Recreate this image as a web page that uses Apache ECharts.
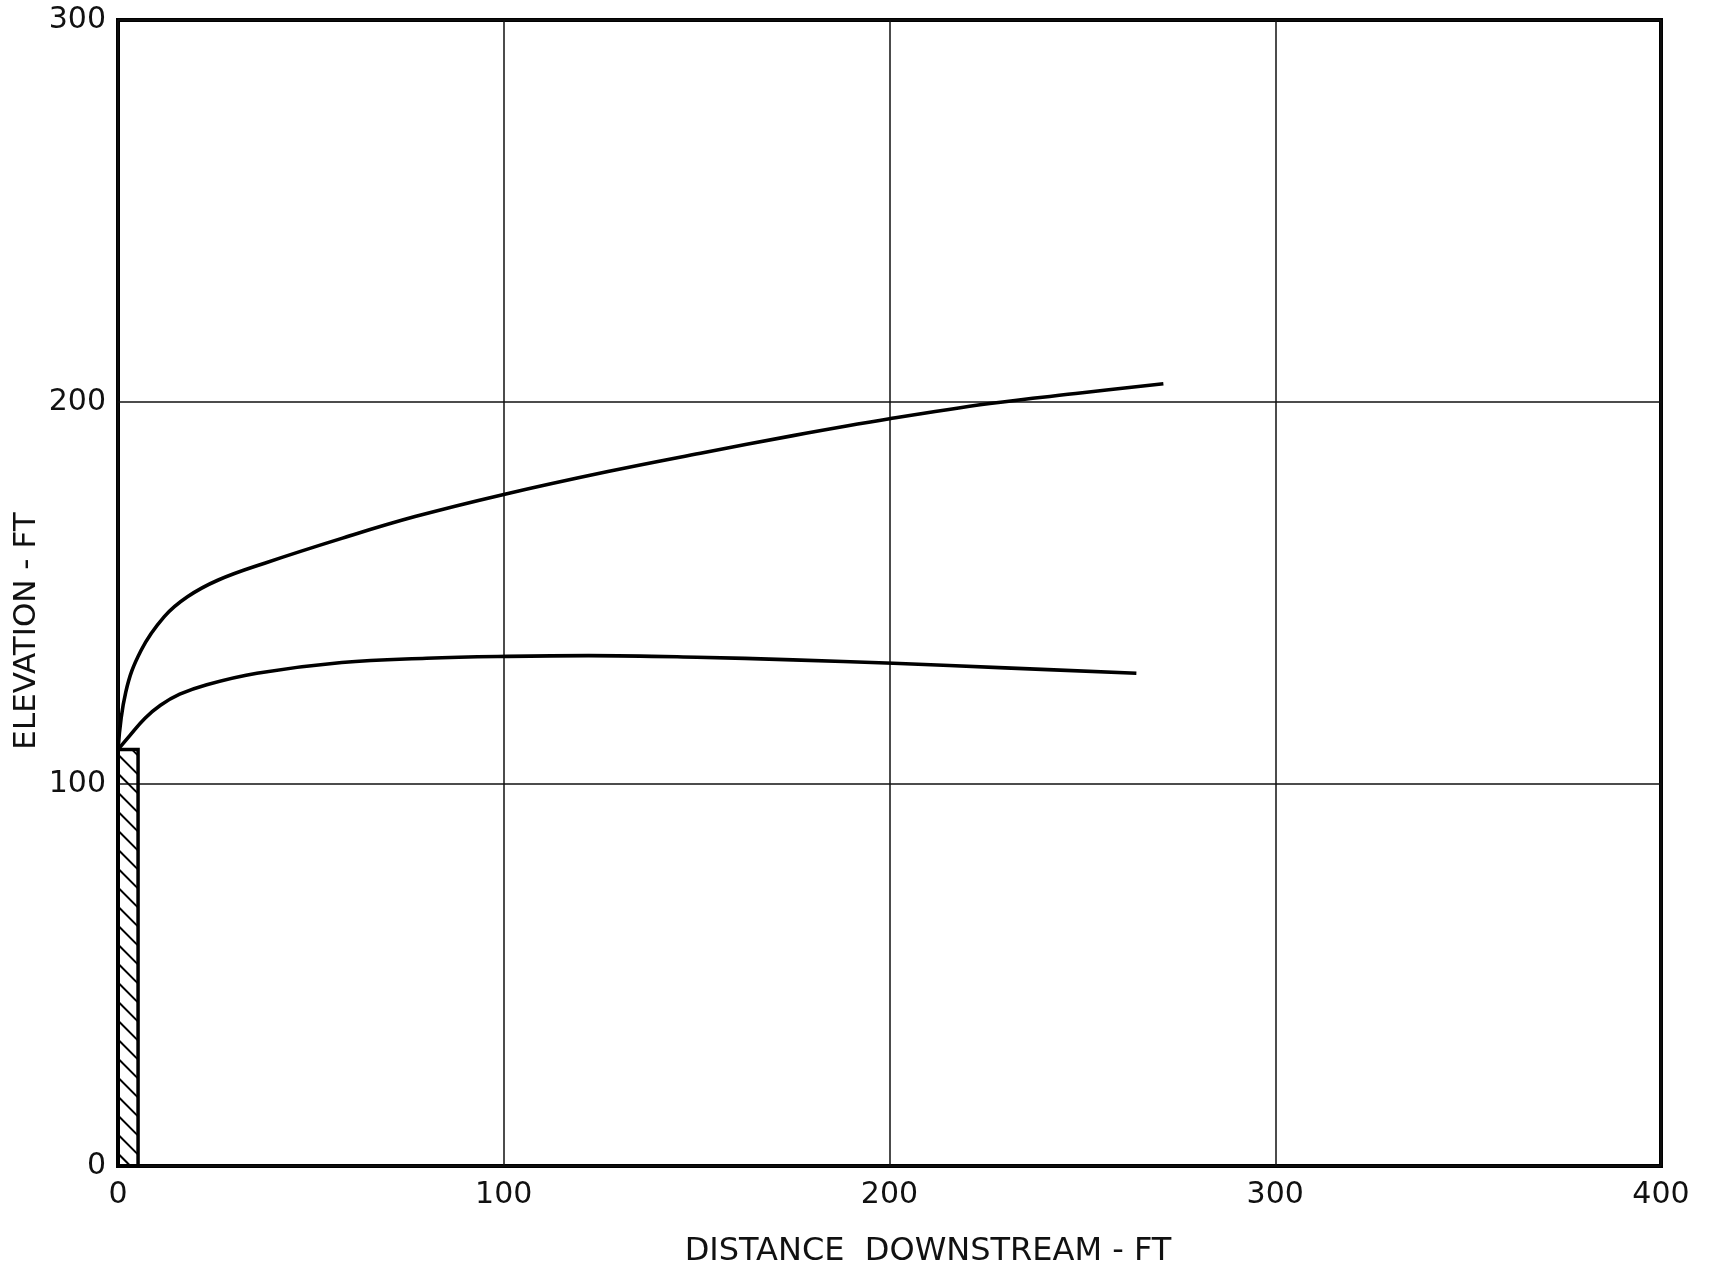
<!DOCTYPE html>
<html>
<head>
<meta charset="utf-8">
<title>Elevation vs distance downstream</title>
<script src="https://cdn.jsdelivr.net/npm/echarts@6/dist/echarts.min.js"></script>
<style>
  html, body { margin: 0; padding: 0; background: #fff; }
  #chart { width: 1712px; height: 1273px; }
</style>
</head>
<body>
<div id="chart"></div>
<script>
// axis ticks
var xTicks = [0, 100, 200, 300, 400];
var yTicks = [0, 100, 200, 300];

// upper curve
var upperX = [0, 2, 6, 12, 18, 26, 38, 58, 77, 100, 127, 151, 175, 200, 226, 250, 271];
var upperY = [109, 124, 135, 143.8, 149, 153.4, 157.8, 164.3, 170, 175.8, 181.8, 186.6, 191.2, 195.6, 199.6, 202.4, 204.8];

// lower curve
var lowerX = [0, 3, 7, 11, 16, 23, 36, 58, 80, 101, 122, 150, 175, 201, 230, 264];
var lowerY = [109, 112.6, 117.2, 120.6, 123.5, 126, 129, 131.8, 132.9, 133.4, 133.6, 133.2, 132.5, 131.6, 130.4, 129];

// structure (hatched): [xStart, xEnd, top]
var wall = [[0, 5.2, 109]];

var FONT = 'DejaVu Sans';

function pairs(xs, ys) {
  return xs.map(function (x, i) { return [x, ys[i]]; });
}

var chart = echarts.init(document.getElementById('chart'));

var lineStyle = { color: '#000', width: 3.6 };

var option = {
  backgroundColor: '#fff',
  animation: false,
  grid: {
    left: 118, right: 51, top: 20, bottom: 107,
    show: true, borderColor: '#000', borderWidth: 4
  },
  xAxis: {
    type: 'value', min: xTicks[0], max: xTicks[xTicks.length - 1], interval: 100,
    axisLine: { show: false }, axisTick: { show: false },
    axisLabel: { color: '#111', fontFamily: FONT, fontSize: 30, margin: 14 },
    splitLine: { show: true, lineStyle: { color: '#111', width: 1.5 } }
  },
  yAxis: {
    type: 'value', min: yTicks[0], max: yTicks[yTicks.length - 1], interval: 100,
    axisLine: { show: false }, axisTick: { show: false },
    axisLabel: { color: '#111', fontFamily: FONT, fontSize: 30, margin: 12 },
    splitLine: { show: true, lineStyle: { color: '#111', width: 1.5 } }
  },
  graphic: [
    {
      type: 'text', x: 928, y: 1252,
      style: {
        text: 'DISTANCE  DOWNSTREAM - FT', fill: '#111',
        font: '32px "' + FONT + '"', align: 'center', verticalAlign: 'middle'
      }
    },
    {
      type: 'text', x: 27, y: 631, rotation: Math.PI / 2,
      style: {
        text: 'ELEVATION - FT', fill: '#111',
        font: '31px "' + FONT + '"', align: 'center', verticalAlign: 'middle'
      }
    }
  ],
  series: [
    {
      type: 'line', data: pairs(upperX, upperY), showSymbol: false,
      smooth: 0.4, lineStyle: lineStyle, z: 5
    },
    {
      type: 'line', data: pairs(lowerX, lowerY), showSymbol: false,
      smooth: 0.4, lineStyle: lineStyle, z: 5
    },
    {
      type: 'custom',
      data: wall,
      encode: { x: [0, 1], y: 2 },
      z: 6,
      renderItem: function (params, api) {
        var p0 = api.coord([api.value(0), 0]);
        var p1 = api.coord([api.value(1), api.value(2)]);
        var left = p0[0], right = p1[0], top = p1[1], bottom = p0[1];
        var w = right - left;
        var children = [];
        var step = 19;
        for (var t = -w + 6; t < bottom - top; t += step) {
          var sx = left, sy = top + t;
          var ex = right, ey = top + t + w;
          if (sy < top) { sx = left + (top - sy); sy = top; }
          if (ey > bottom) { ex = right - (ey - bottom); ey = bottom; }
          if (ex <= sx) continue;
          children.push({
            type: 'line',
            shape: { x1: sx, y1: sy, x2: ex, y2: ey },
            style: { stroke: '#000', lineWidth: 2 }
          });
        }
        children.push({
          type: 'rect',
          shape: { x: left, y: top, width: w, height: bottom - top },
          style: { fill: 'none', stroke: '#000', lineWidth: 3.5 }
        });
        return { type: 'group', children: children };
      }
    }
  ]
};

chart.setOption(option);
</script>
</body>
</html>
